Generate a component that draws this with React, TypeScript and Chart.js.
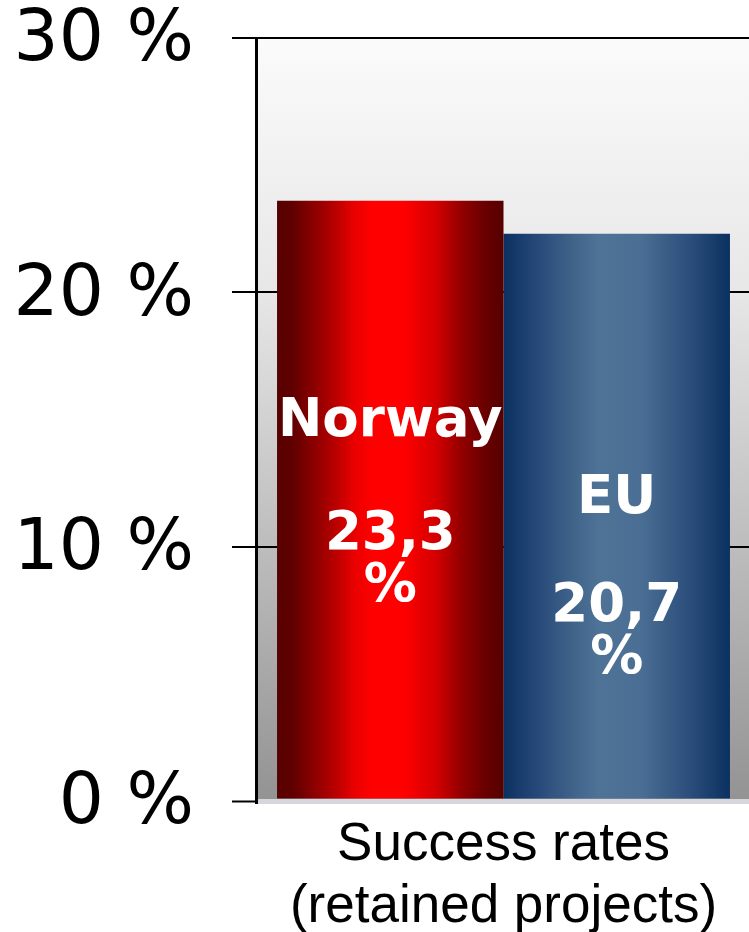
import React, { useEffect, useRef } from "react";
import { Chart, registerables } from "chart.js";

Chart.register(...registerables);

const categories = [["Success rates", "(retained projects)"]];
const seriesNames = ["Norway", "EU"];
const seriesValues = [23.6, 22.3];
const valueLabels = ["23,3", "20,7"];
const yTicks = [0, 10, 20, 30];

const redStops: [number, string][] = [
  [0, "#560000"],
  [0.07, "#600000"],
  [0.24, "#b00000"],
  [0.34, "#e80000"],
  [0.42, "#ff0000"],
  [0.56, "#ff0000"],
  [0.7, "#d40000"],
  [0.82, "#900000"],
  [0.92, "#680000"],
  [1, "#560000"],
];
const blueStops: [number, string][] = [
  [0, "#0b3160"],
  [0.15, "#27497a"],
  [0.3, "#3f6289"],
  [0.42, "#4f7397"],
  [0.6, "#4b6f94"],
  [0.82, "#2c4e7c"],
  [1, "#0b3160"],
];
const barStops = [redStops, blueStops];

export default function App() {
  const ref = useRef<HTMLCanvasElement | null>(null);

  useEffect(() => {
    const canvas = ref.current;
    if (!canvas) return;

    const bgPlugin = {
      id: "plotBg",
      beforeDraw(chart: any) {
        const { ctx, chartArea } = chart;
        const g = ctx.createLinearGradient(0, chartArea.top, 0, chartArea.bottom);
        g.addColorStop(0, "#fbfbfb");
        g.addColorStop(0.33, "#e7e7e7");
        g.addColorStop(0.68, "#bbbbbb");
        g.addColorStop(1, "#939393");
        ctx.save();
        ctx.fillStyle = "#ffffff";
        ctx.fillRect(0, 0, chart.width, chart.height);
        ctx.fillStyle = g;
        ctx.fillRect(chartArea.left, chartArea.top, chartArea.right - chartArea.left, chartArea.bottom - chartArea.top);
        ctx.restore();
      },
      beforeDatasetsDraw(chart: any) {
        const { ctx } = chart;
        chart.data.datasets.forEach((_ds: any, i: number) => {
          const meta = chart.getDatasetMeta(i);
          meta.data.forEach((el: any) => {
            const half = el.width / 2;
            const g = ctx.createLinearGradient(el.x - half, 0, el.x + half, 0);
            barStops[i].forEach(([o, col]) => g.addColorStop(o, col));
            el.options.backgroundColor = g;
          });
        });
      },
    };

    const labelFrac = [0.606, 0.505];
    const gaps = [[113, 52], [108, 52]];

    const labelPlugin = {
      id: "barLabels",
      afterDatasetsDraw(chart: any) {
        const { ctx } = chart;
        ctx.save();
        ctx.fillStyle = "#ffffff";
        ctx.font = "bold 53px 'DejaVu Sans'";
        ctx.textAlign = "center";
        ctx.textBaseline = "alphabetic";
        chart.data.datasets.forEach((_ds: any, i: number) => {
          const meta = chart.getDatasetMeta(i);
          const bar = meta.data[0];
          if (!bar) return;
          const base = bar.base;
          const top = bar.y;
          let y = base - (base - top) * labelFrac[i];
          ctx.fillText(seriesNames[i], bar.x, y);
          y += gaps[i][0];
          ctx.fillText(valueLabels[i], bar.x, y);
          y += gaps[i][1];
          ctx.fillText("%", bar.x, y);
        });
        ctx.restore();
      },
    };

    const chart = new Chart(canvas, {
      type: "bar",
      data: {
        labels: categories as any,
        datasets: [
          {
            label: seriesNames[0],
            data: [seriesValues[0]],
            backgroundColor: "#d00000",
            borderWidth: 0,
          },
          {
            label: seriesNames[1],
            data: [seriesValues[1]],
            backgroundColor: "#3f6289",
            borderWidth: 0,
          },
        ],
      },
      options: {
        responsive: false,
        animation: false,
        devicePixelRatio: 1,
        layout: { padding: { top: 38, left: 0, right: 0, bottom: 0 } },
        plugins: {
          legend: { display: false },
          tooltip: { enabled: false },
        },
        datasets: {
          bar: { categoryPercentage: 0.915, barPercentage: 1 },
        },
        scales: {
          x: {
            grid: { display: false, drawTicks: false },
            border: { display: false },
            ticks: {
              color: "#000000",
              padding: 13,
              font: { family: "'Liberation Sans', Arial, sans-serif", size: 53, lineHeight: 1.17 },
              maxRotation: 0,
              autoSkip: false,
            },
            afterFit(scale: any) {
              scale.height = 131;
            },
          },
          y: {
            min: 0,
            max: 30,
            afterBuildTicks(scale: any) {
              scale.ticks = yTicks.map((v) => ({ value: v }));
            },
            grid: {
              color: (c: any) => (c.tick && c.tick.value === 0 ? "#d6d6de" : "#000000"),
              lineWidth: (c: any) => (c.tick && c.tick.value === 0 ? 5 : 2),
              tickColor: "#000000",
              tickWidth: 2,
              tickLength: 24,
              drawTicks: true,
            },
            border: { display: true, color: "#000000", width: 3 },
            ticks: {
              color: "#000000",
              padding: 38,
              labelOffset: 4,
              font: { family: "'DejaVu Sans', Verdana, sans-serif", size: 71 },
              callback: (v: any) => v + " %",
            },
            afterFit(scale: any) {
              scale.width = 256;
              scale.paddingTop = 0;
              scale.paddingBottom = 0;
            },
          },
        },
      },
      plugins: [bgPlugin, labelPlugin],
    } as any);

    return () => chart.destroy();
  }, []);

  return (
    <div
      style={{
        position: "absolute",
        left: 0,
        top: 0,
        width: 749,
        height: 932,
        overflow: "hidden",
        background: "#ffffff",
      }}
    >
      <canvas ref={ref} width={751} height={932} style={{ display: "block" }} />
    </div>
  );
}
